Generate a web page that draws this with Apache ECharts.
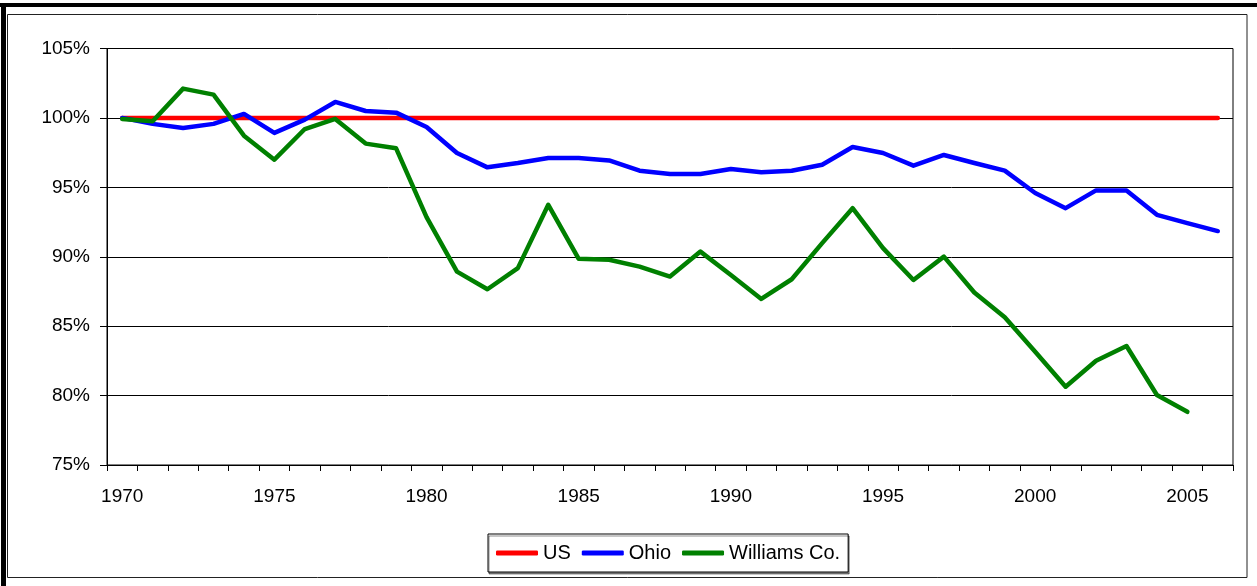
<!DOCTYPE html>
<html>
<head>
<meta charset="utf-8">
<script src="https://cdn.jsdelivr.net/npm/echarts@6/dist/echarts.min.js"></script>
<style>
  html, body { margin: 0; padding: 0; background: #fff; }
  #chart { width: 1257px; height: 586px; }
</style>
</head>
<body>
<div id="chart"></div>
<script>
// ---- data ----
const years = [];
for (let y = 1970; y <= 2006; y++) years.push(String(y));

const usValues = [
  100, 100, 100, 100, 100, 100, 100, 100, 100, 100,
  100, 100, 100, 100, 100, 100, 100, 100, 100, 100,
  100, 100, 100, 100, 100, 100, 100, 100, 100, 100,
  100, 100, 100, 100, 100, 100, 100
];

const ohioValues = [
  100.0, 99.57, 99.28, 99.57, 100.29, 98.92, 99.88, 101.15, 100.5, 100.38,
  99.35, 97.47, 96.44, 96.75, 97.11, 97.11, 96.94, 96.2, 95.96, 95.96,
  96.32, 96.08, 96.2, 96.63, 97.9, 97.47, 96.56, 97.33, 96.75, 96.2,
  94.59, 93.5, 94.78, 94.78, 93.02, 92.42, 91.85
];

const williamsValues = [
  99.93, 99.76, 102.11, 101.68, 98.72, 96.99, 99.2, 99.93, 98.15, 97.81,
  92.86, 88.93, 87.66, 89.18, 93.74, 89.85, 89.78, 89.29, 88.57, 90.37,
  88.69, 86.96, 88.38, 90.98, 93.5, 90.62, 88.33, 90.01, 87.42, 85.64,
  83.16, 80.64, 82.51, 83.57, 80.04, 78.83
];

const seriesNames = ['US', 'Ohio', 'Williams Co.'];
const seriesColors = ['#ff0000', '#0000ff', '#008000'];

// ---- chart ----
const FONT = "'Liberation Sans', Arial, sans-serif";
const chart = echarts.init(document.getElementById('chart'), null, { renderer: 'canvas' });

const seriesData = [usValues, ohioValues, williamsValues];

chart.setOption({
  animation: false,
  backgroundColor: '#ffffff',
  textStyle: { fontFamily: FONT, color: '#000' },
  graphic: [
    { type: 'rect', shape: { x: 0, y: 3, width: 1257, height: 4 }, style: { fill: '#000' }, silent: true },
    { type: 'rect', shape: { x: 1, y: 3, width: 5, height: 583 }, style: { fill: '#000' }, silent: true },
    { type: 'rect', shape: { x: 7.5, y: 14.5, width: 1239.5, height: 563 },
      style: { fill: 'none', stroke: '#222', lineWidth: 1 }, silent: true }
  ],
  grid: {
    left: 107, right: 24, top: 48.5, bottom: 121,
    show: true, borderColor: '#000', borderWidth: 1, backgroundColor: 'transparent',
    containLabel: false
  },
  legend: {
    data: seriesNames,
    left: 488, top: 534,
    padding: [9, 8],
    itemGap: 11,
    itemWidth: 42, itemHeight: 5,
    icon: 'roundRect',
    backgroundColor: '#fff',
    borderColor: '#000', borderWidth: 1,
    shadowColor: 'rgba(0,0,0,0.45)', shadowBlur: 0, shadowOffsetX: 1, shadowOffsetY: 2,
    textStyle: { fontFamily: FONT, fontSize: 20, color: '#000', lineHeight: 20, padding: [0, 0, 0, 0] }
  },
  xAxis: {
    type: 'category',
    data: years,
    boundaryGap: true,
    axisLine: { show: true, lineStyle: { color: '#000', width: 1 } },
    axisTick: { show: true, interval: 0, length: 6, lineStyle: { color: '#000' } },
    axisLabel: { interval: 4, margin: 22, fontSize: 19, fontFamily: FONT, color: '#000' },
    splitLine: { show: false }
  },
  yAxis: {
    type: 'value',
    min: 75, max: 105, interval: 5,
    axisLine: { show: true, lineStyle: { color: '#000', width: 1 } },
    axisTick: { show: true, length: 7, lineStyle: { color: '#000' } },
    axisLabel: { formatter: '{value}%', margin: 17, fontSize: 19, fontFamily: FONT, color: '#000' },
    splitLine: { show: true, lineStyle: { color: '#000', width: 1 } }
  },
  series: seriesNames.map((name, i) => ({
    name: name,
    type: 'line',
    data: seriesData[i],
    showSymbol: false,
    symbol: 'none',
    lineStyle: { color: seriesColors[i], width: 4.5, cap: 'round', join: 'round' },
    itemStyle: { color: seriesColors[i] },
    emphasis: { disabled: true },
    z: 2 + i
  }))
});
</script>
</body>
</html>
